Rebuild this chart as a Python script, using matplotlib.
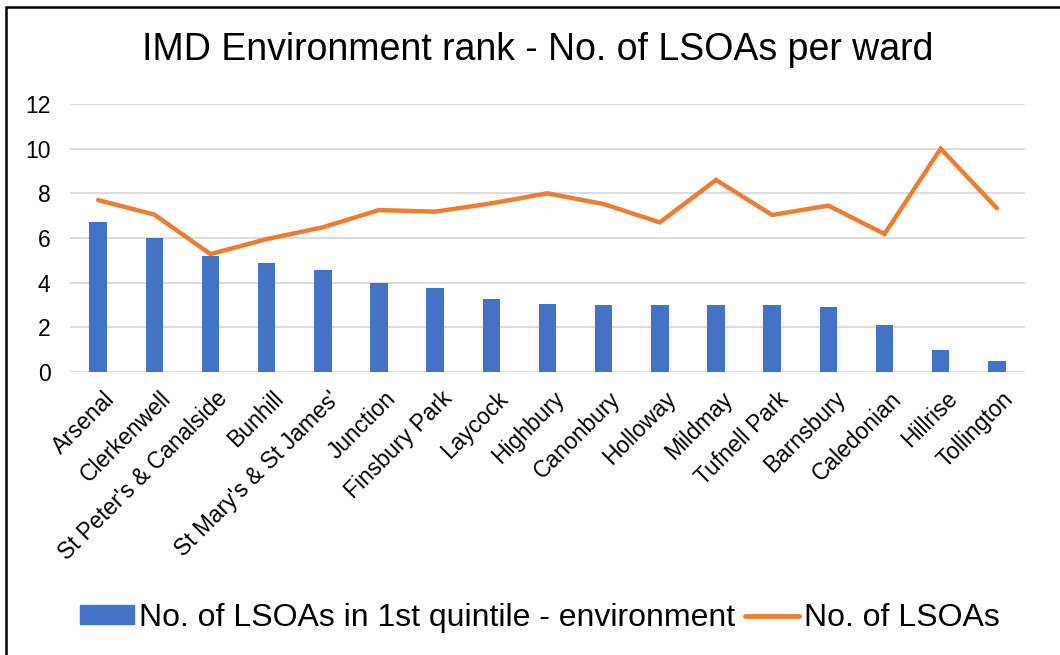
import matplotlib.pyplot as plt
from matplotlib.patches import Rectangle
from matplotlib.lines import Line2D
from matplotlib.transforms import ScaledTranslation
import numpy as np

plt.rcParams['font.family'] = ['Liberation Sans', 'DejaVu Sans']

wards = ["Arsenal", "Clerkenwell", "St Peter's & Canalside", "Bunhill",
         "St Mary's & St James'", "Junction", "Finsbury Park", "Laycock",
         "Highbury", "Canonbury", "Holloway", "Mildmay", "Tufnell Park",
         "Barnsbury", "Caledonian", "Hillrise", "Tollington"]
first_quintile = [6.7, 6.0, 5.2, 4.9, 4.55, 4.0, 3.75, 3.25, 3.05, 3.0,
                  3.0, 3.0, 3.0, 2.9, 2.1, 1.0, 0.5]
lsoas = [7.7, 7.05, 5.28, 5.95, 6.48, 7.25, 7.18, 7.55, 8.0, 7.52,
         6.7, 8.6, 7.03, 7.45, 6.18, 10.0, 7.33]

blue = "#4472C4"
orange = "#ED7D31"

fig = plt.figure(figsize=(10.6, 6.55), dpi=100)
ax = fig.add_axes([70/1060, 1 - 372/655, 955/1060, 268/655])

x = np.arange(len(wards))
ax.bar(x, first_quintile, width=0.31, color=blue, zorder=2)
ax.plot(x, lsoas, color=orange, lw=3.2, solid_capstyle='round',
        solid_joinstyle='miter', zorder=3)

ax.set_xlim(-0.5, len(wards) - 0.5)
ax.set_ylim(0, 12)
ax.set_yticks(range(0, 13, 2))
ax.yaxis.grid(True, color="#D9D9D9", lw=1.3, zorder=0)
ax.set_axisbelow(True)
for s in ax.spines.values():
    s.set_visible(False)
ax.tick_params(axis='both', length=0, labelsize=16.5, colors="black")
ax.tick_params(axis='y', pad=14)
ax.set_xticks(x)
ax.set_xticklabels(wards, rotation=45, ha='right', va='top',
                   rotation_mode='anchor', fontsize=16.5)
ax.tick_params(axis='x', pad=11)
# nudge the rotated ward names a little to the right
shift = ScaledTranslation(5/100, 0, fig.dpi_scale_trans)
for lab in ax.get_xticklabels():
    lab.set_transform(lab.get_transform() + shift)

fig.text(538/1060, 1 - 50/655, "IMD Environment rank - No. of LSOAs per ward",
         ha='center', va='center', fontsize=27)

# legend
handles = [Rectangle((0, 0), 1, 1, color=blue),
           Line2D([], [], color=orange, lw=3.5, solid_capstyle='round')]
fig.legend(handles, ["No. of LSOAs in 1st quintile - environment", "No. of LSOAs"],
           loc='center', bbox_to_anchor=(540/1060, 1 - 618/655), ncol=2,
           frameon=False, fontsize=23, handlelength=1.7, handleheight=0.55,
           handletextpad=0.15, columnspacing=0.3)

# chart border
fig.patches.append(Rectangle((6/1060, -0.1), 1.2, 1.1 - 7/655,
                             transform=fig.transFigure, fill=False,
                             edgecolor="black", lw=1.8))

fig.savefig("out.png", dpi=100)
